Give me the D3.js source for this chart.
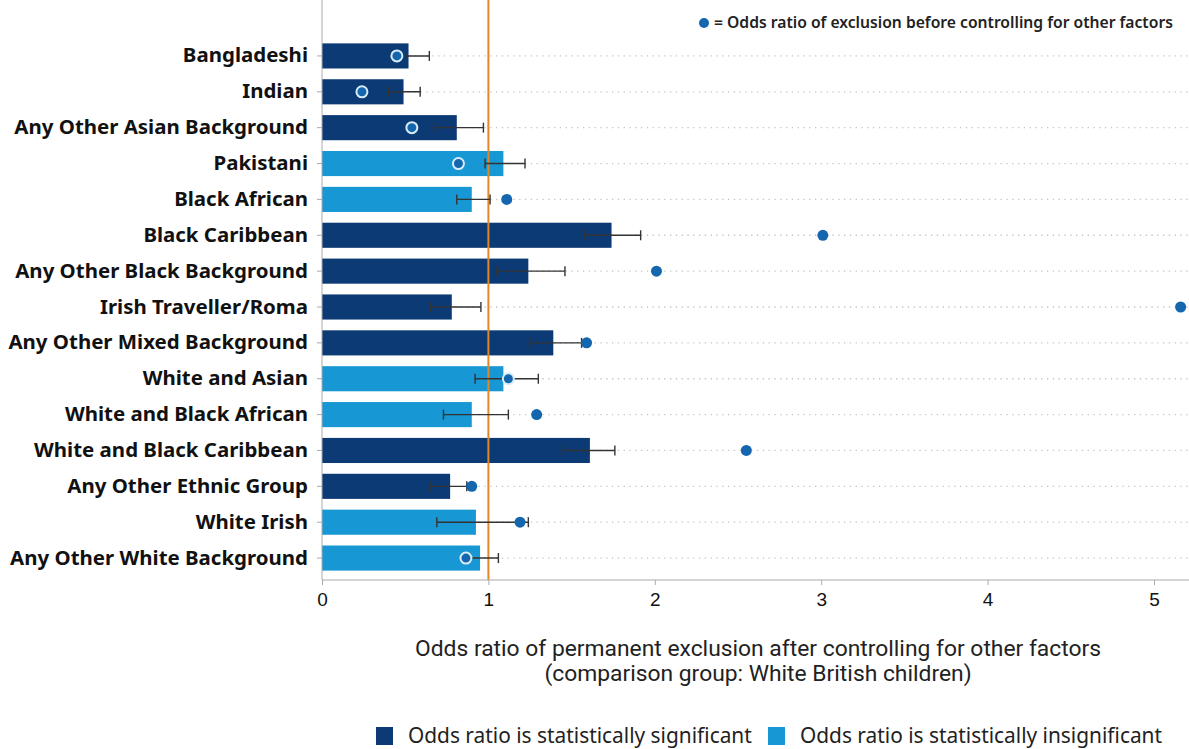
<!DOCTYPE html>
<html><head><meta charset="utf-8">
<script src="https://cdn.jsdelivr.net/npm/d3@7"></script>
<style>body{margin:0;background:#fff;}svg{display:block;}</style>
</head><body>
<svg id="c" width="1189" height="749"></svg>
<script>
const categories = ["Bangladeshi","Indian","Any Other Asian Background","Pakistani","Black African","Black Caribbean","Any Other Black Background","Irish Traveller/Roma","Any Other Mixed Background","White and Asian","White and Black African","White and Black Caribbean","Any Other Ethnic Group","White Irish","Any Other White Background"];
const adjustedOR = [0.52,0.49,0.81,1.09,0.90,1.74,1.24,0.78,1.39,1.09,0.90,1.61,0.77,0.925,0.95];
const ciLower   = [0.42,0.40,0.68,0.98,0.81,1.58,1.05,0.65,1.25,0.92,0.73,1.45,0.65,0.69,0.85];
const ciUpper   = [0.645,0.59,0.97,1.22,1.01,1.915,1.46,0.955,1.56,1.30,1.12,1.76,0.87,1.24,1.06];
const unadjustedOR = [0.45,0.24,0.54,0.82,1.11,3.01,2.01,5.16,1.59,1.12,1.29,2.55,0.90,1.19,0.865];
const significant = [true,true,true,false,false,true,true,true,true,false,false,true,true,false,false];
const xTicks = [0,1,2,3,4,5];
const legendLabels = ["Odds ratio is statistically significant","Odds ratio is statistically insignificant"];
const dotLegendLabel = "= Odds ratio of exclusion before controlling for other factors";
const axisTitle = ["Odds ratio of permanent exclusion after controlling for other factors","(comparison group: White British children)"];

const svg = d3.select("#c");
const C_DARK="#0b3a75", C_LIGHT="#1797d3", C_DOT="#1466ae", C_ORANGE="#e0872a";

// scale a text selection's font size so that the given node reaches a target width
function fitWidth(sel, node, target){
  const fs = parseFloat(sel.attr("font-size"));
  const w = node.getComputedTextLength();
  sel.attr("font-size", (fs*target/w).toFixed(2)+"px");
}

const x = d3.scaleLinear().domain([0,5]).range([322,1154]);
const y = d3.scaleBand().domain(categories).range([38,576]).paddingInner(0.3).paddingOuter(0.15);
const yc = d => y(d)+y.bandwidth()/2;

// gridlines
svg.append("g").selectAll("line").data(categories).join("line")
  .attr("x1",322).attr("x2",1189).attr("y1",yc).attr("y2",yc)
  .attr("stroke","#c4c4c4").attr("stroke-width",1.3).attr("stroke-dasharray","1.3,4.5");

// bars
svg.append("g").selectAll("rect").data(categories).join("rect")
  .attr("x",x(0)).attr("y",d=>y(d)).attr("height",y.bandwidth())
  .attr("width",(d,i)=>x(adjustedOR[i])-x(0))
  .attr("fill",(d,i)=>significant[i]?C_DARK:C_LIGHT);

// reference line at 1
svg.append("line").attr("x1",x(1)).attr("x2",x(1)).attr("y1",0).attr("y2",580)
  .attr("stroke",C_ORANGE).attr("stroke-width",2);

// error bars
const eb = svg.append("g").attr("stroke","#333").attr("stroke-width",1.4);
categories.forEach((c,i)=>{
  eb.append("line").attr("x1",x(ciLower[i])).attr("x2",x(ciUpper[i])).attr("y1",yc(c)).attr("y2",yc(c));
  [ciLower[i],ciUpper[i]].forEach(v=>eb.append("line").attr("x1",x(v)).attr("x2",x(v)).attr("y1",yc(c)-5).attr("y2",yc(c)+5));
});

// dots
svg.append("g").selectAll("circle").data(categories).join("circle")
  .attr("cx",(d,i)=>x(unadjustedOR[i])).attr("cy",yc).attr("r",5.5)
  .attr("fill",C_DOT).attr("stroke",(d,i)=>unadjustedOR[i]<adjustedOR[i]+0.04?"#d8ecf8":"none").attr("stroke-width",2);

// y axis
const ya = svg.append("g").attr("transform","translate(322,0)")
  .call(d3.axisLeft(y).tickSize(5).tickPadding(9));
ya.select(".domain").attr("d","M0,0V580").attr("stroke","#aaa");
ya.selectAll(".tick line").attr("stroke","#aaa");
const yl = ya.selectAll(".tick text").attr("font-family","Noto Sans, sans-serif").attr("font-weight","bold")
  .attr("font-size","18px").attr("fill","#111");
{
  const longest = yl.filter(d=>d==="Any Other White Background").node();
  fitWidth(yl, longest, 298);
}

// x axis
const xa = svg.append("g").attr("transform","translate(0,580)")
  .call(d3.axisBottom(x).tickValues(xTicks).tickSize(5).tickPadding(8).tickFormat(d3.format("d")));
xa.select(".domain").attr("d","M322,0H1189").attr("stroke","#aaa");
xa.selectAll(".tick line").attr("stroke","#aaa");
xa.selectAll(".tick text").attr("font-family","Liberation Sans, Arial, sans-serif").attr("font-size","19px").attr("fill","#111");

// x axis title (two separate lines)
const tg = svg.append("g").attr("font-family","Roboto, sans-serif").attr("font-size","18px").attr("fill","#222").attr("text-anchor","middle");
const t1 = tg.append("text").attr("x",758).attr("y",656).text(axisTitle[0]);
tg.append("text").attr("x",758).attr("y",681).text(axisTitle[1]);
fitWidth(tg, t1.node(), 686);

// top legend
svg.append("circle").attr("cx",704).attr("cy",23).attr("r",5).attr("fill",C_DOT);
const tl = svg.append("text").attr("x",714).attr("y",28).attr("font-family","Noto Sans, sans-serif").attr("font-weight",600)
  .attr("font-size","13.5px").attr("fill","#222").text(dotLegendLabel);
fitWidth(tl, tl.node(), 459);

// bottom legend
const lg = svg.append("g").attr("font-family","Noto Sans, sans-serif").attr("font-size","17px").attr("fill","#222");
[[376,C_DARK,408],[768,C_LIGHT,800]].forEach((p,i)=>{
  lg.append("rect").attr("x",p[0]).attr("y",727).attr("width",17).attr("height",18).attr("fill",p[1]);
  lg.append("text").attr("x",p[2]).attr("y",743).text(legendLabels[i]);
});
fitWidth(lg, lg.select("text").node(), 344);
</script>
</body></html>
